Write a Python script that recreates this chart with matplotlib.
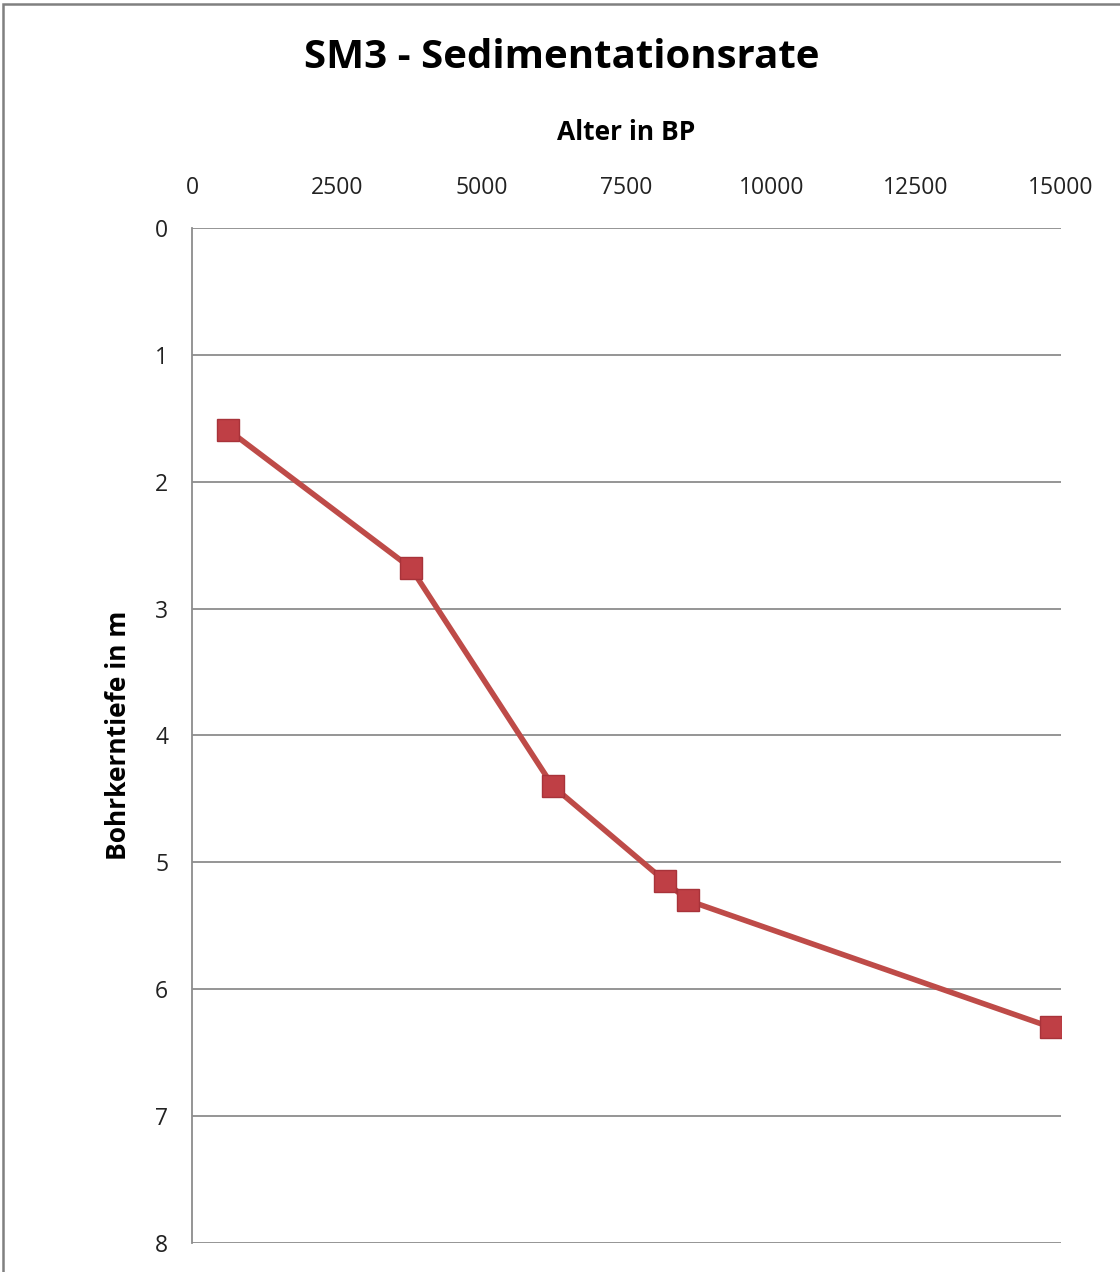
import matplotlib.pyplot as plt
from matplotlib.patches import Rectangle

plt.rcParams['font.family'] = ['Open Sans', 'DejaVu Sans']

# Alter (BP) und Tiefe (m) der datierten Proben
alter = [620, 3780, 6230, 8170, 8560, 14830]
tiefe = [1.59, 2.68, 4.40, 5.15, 5.30, 6.30]

x_ticks = [0, 2500, 5000, 7500, 10000, 12500, 15000]
y_ticks = [0, 1, 2, 3, 4, 5, 6, 7, 8]

fig = plt.figure(figsize=(11.2, 12.72), dpi=100)
ax = fig.add_axes([0.1714, 0.0228, 0.7759, 0.798])

ax.plot(alter, tiefe, color='#BE4B48', lw=4, marker='s', markersize=16,
        markerfacecolor='#BF3F45', markeredgecolor='#A8333A', zorder=3)

ax.set_xlim(0, 15000)
ax.set_ylim(8, 0)
ax.set_xticks(x_ticks)
ax.set_yticks(y_ticks)
ax.xaxis.tick_top()
ax.xaxis.set_label_position('top')
ax.tick_params(axis='x', length=0, pad=20, labelsize=16.5, colors='#222222')
ax.tick_params(axis='y', length=0, pad=17, labelsize=16.5, colors='#222222')
ax.grid(axis='y', color='#8c8c8c', lw=1.3)
ax.set_axisbelow(True)

for s in ['top', 'right', 'bottom']:
    ax.spines[s].set_visible(False)
ax.spines['left'].set_color('#8c8c8c')
ax.spines['left'].set_linewidth(1.3)

ax.set_xlabel('Alter in BP', fontsize=19, fontweight='bold', labelpad=26)
ax.set_ylabel('Bohrkerntiefe in m', fontsize=19, fontweight='bold', labelpad=17)
fig.text(0.502, 0.955, 'SM3 - Sedimentationsrate', ha='center', va='center',
         fontsize=29, fontweight='bold')

# Rahmen um das Diagramm
fig.patches.append(Rectangle((0.003, -0.01), 1.1, 1.007, transform=fig.transFigure,
                             fill=False, edgecolor='#808080', lw=1.8))

fig.savefig('out.png', dpi=100)
